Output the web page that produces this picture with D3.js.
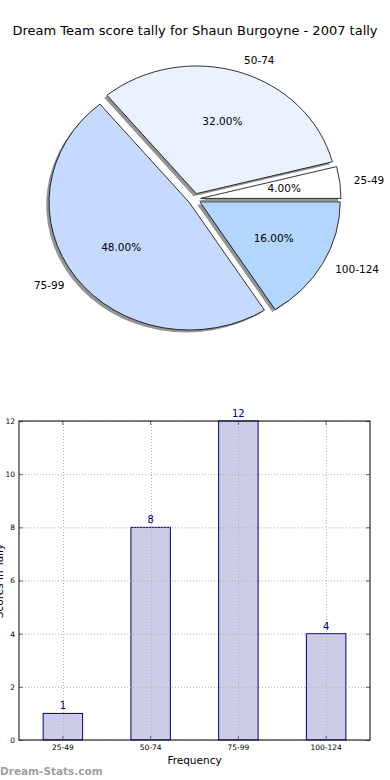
<!DOCTYPE html>
<html><head><meta charset="utf-8">
<script src="https://cdn.jsdelivr.net/npm/d3@7"></script>
<style>
html,body{margin:0;padding:0;background:#fff;}
svg{display:block;font-family:"DejaVu Sans",sans-serif;}
</style></head>
<body>
<svg id="chart" width="390" height="780"></svg>
<script>
const title = "Dream Team score tally for Shaun Burgoyne - 2007 tally";
const categories = ["25-49", "50-74", "75-99", "100-124"];
const counts = [1, 8, 12, 4];
const pieColors = ["#ffffff", "#eaf1ff", "#c6d9ff", "#b3d6ff"];
const yTicks = [0, 2, 4, 6, 8, 10, 12];
const xLabel = "Frequency";
const yLabel = "Scores in Tally";
const watermark = "Dream-Stats.com";

const svg = d3.select("#chart");

svg.append("text").attr("x", 195).attr("y", 35).attr("text-anchor", "middle")
  .attr("font-size", 13).attr("fill", "#000").text(title);

// ---------- Pie (matplotlib-like, elliptical, exploded, shadowed) ----------
const cx = 194.4, cy = 199.1, sx = 140.3, sy = 127.6, explode = 0.045;
const total = d3.sum(counts);
const pie = d3.pie().sort(null).value(d => d)
  .startAngle(Math.PI / 2).endAngle(Math.PI / 2 - 2 * Math.PI);
const arcs = pie(counts);
const arcGen = d3.arc().innerRadius(0).outerRadius(1);

const pieG = svg.append("g");
function offset(a, k) { return [Math.sin(a) * k * sx, -Math.cos(a) * k * sy]; }

// shadows
arcs.forEach((d, i) => {
  const m = (d.startAngle + d.endAngle) / 2;
  const [ox, oy] = offset(m, explode);
  pieG.append("path")
    .attr("d", arcGen(d))
    .attr("transform", `translate(${cx + ox - 0.02 * sx},${cy + oy + 0.02 * sy}) scale(${sx},${sy})`)
    .attr("fill", "#000").attr("fill-opacity", 0.42)
    .attr("stroke", "none");
});
// wedges
arcs.forEach((d, i) => {
  const m = (d.startAngle + d.endAngle) / 2;
  const [ox, oy] = offset(m, explode);
  pieG.append("path")
    .attr("d", arcGen(d))
    .attr("transform", `translate(${cx + ox},${cy + oy}) scale(${sx},${sy})`)
    .attr("fill", pieColors[i])
    .attr("stroke", "#000").attr("stroke-width", 0.8)
    .attr("vector-effect", "non-scaling-stroke");
});
// labels
arcs.forEach((d, i) => {
  const m = (d.startAngle + d.endAngle) / 2;
  const [ox, oy] = offset(m, explode);
  const [lx, ly] = offset(m, 1.1);
  pieG.append("text")
    .attr("x", cx + ox + lx).attr("y", cy + oy + ly).attr("dy", "0.35em")
    .attr("text-anchor", Math.sin(m) > 0 ? "start" : "end")
    .attr("font-size", 10.5).text(categories[i]);
  const [px, py] = offset(m, 0.6);
  pieG.append("text")
    .attr("x", cx + ox + px).attr("y", cy + oy + py).attr("dy", "0.35em")
    .attr("text-anchor", "middle")
    .attr("font-size", 10.5).text((counts[i] / total * 100).toFixed(2) + "%");
});

// ---------- Bar chart ----------
const L = 19, R = 370, T = 421, B = 740;
const x = d3.scaleBand().domain(categories).range([L, R]).paddingInner(0.55).paddingOuter(0.275);
const y = d3.scaleLinear().domain([0, 12]).range([B, T]);
const barG = svg.append("g");

// bars
barG.selectAll("rect.bar").data(counts).join("rect")
  .attr("x", (d, i) => x(categories[i]))
  .attr("y", d => y(d))
  .attr("width", x.bandwidth())
  .attr("height", d => B - y(d))
  .attr("fill", "#000080").attr("fill-opacity", 0.2)
  .attr("stroke", "#000080").attr("stroke-width", 1);

// grid
const gridStyle = s => s.attr("stroke", "#b0b0b0").attr("stroke-width", 1).attr("stroke-dasharray", "1,2");
yTicks.forEach(t => {
  barG.append("line").attr("x1", L).attr("x2", R).attr("y1", y(t) + 0.5).attr("y2", y(t) + 0.5).call(gridStyle);
});
categories.forEach(c => {
  const cxp = Math.round(x(c) + x.bandwidth() / 2) + 0.5;
  barG.append("line").attr("x1", cxp).attr("x2", cxp).attr("y1", T).attr("y2", B).call(gridStyle);
});

// axes
const yAxis = d3.axisLeft(y).tickValues(yTicks).tickSize(-4).tickPadding(4);
const yg = barG.append("g").attr("transform", `translate(${L},0)`).call(yAxis);
const yAxisR = d3.axisRight(y).tickValues(yTicks).tickSize(-4).tickFormat("");
const ygr = barG.append("g").attr("transform", `translate(${R},0)`).call(yAxisR);
const xAxis = d3.axisBottom(x).tickSize(-4).tickPadding(5);
const xg = barG.append("g").attr("transform", `translate(0,${B})`).call(xAxis);
const xAxisT = d3.axisTop(x).tickSize(-4).tickFormat("");
const xgt = barG.append("g").attr("transform", `translate(0,${T})`).call(xAxisT);
[yg, ygr, xg, xgt].forEach(g => {
  g.select(".domain").remove();
  g.selectAll(".tick line").attr("stroke", "#666");
  g.selectAll(".tick text").attr("font-size", 7.5).attr("fill", "#000")
    .attr("font-family", "DejaVu Sans, sans-serif");
});

// frame
barG.append("rect").attr("x", L).attr("y", T).attr("width", R - L).attr("height", B - T)
  .attr("fill", "none").attr("stroke", "#000").attr("stroke-width", 1);

// value labels
barG.selectAll("text.val").data(counts).join("text")
  .attr("class", "val")
  .attr("x", (d, i) => x(categories[i]) + x.bandwidth() / 2)
  .attr("y", d => y(d) - 4)
  .attr("text-anchor", "middle").attr("font-size", 10).attr("fill", "#000080")
  .text(d => d);

// axis labels
svg.append("text").attr("x", 194.5).attr("y", 764).attr("text-anchor", "middle")
  .attr("font-size", 10.5).text(xLabel);
svg.append("text").attr("transform", "translate(3,581) rotate(-90)")
  .attr("text-anchor", "middle").attr("font-size", 10.5).text(yLabel);

// watermark
svg.append("text").attr("x", 0).attr("y", 775).attr("font-size", 10.5)
  .attr("font-weight", "bold").attr("fill", "#a0a0a0").text(watermark);
</script>
</body></html>
